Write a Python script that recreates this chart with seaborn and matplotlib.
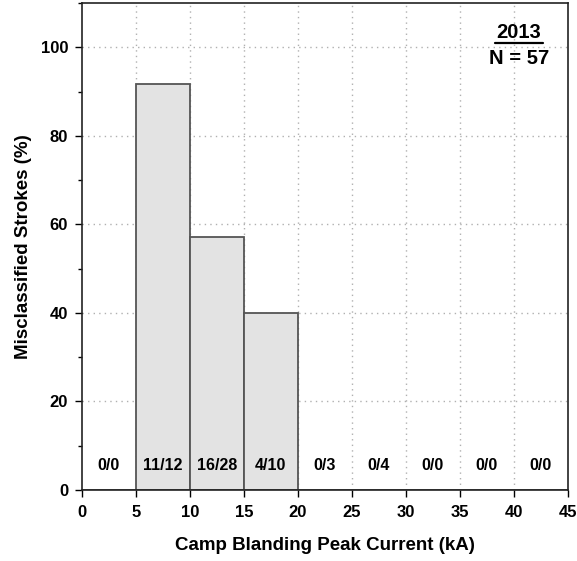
import matplotlib
matplotlib.use("Agg")
import matplotlib.pyplot as plt
import seaborn as sns
import numpy as np
from matplotlib.ticker import MultipleLocator

sns.set_style("ticks")
plt.rcParams['font.family'] = ['Liberation Sans', 'DejaVu Sans']
plt.rcParams['font.weight'] = 'bold'
plt.rcParams['text.color'] = 'black'
plt.rcParams['axes.labelcolor'] = 'black'
plt.rcParams['xtick.color'] = 'black'
plt.rcParams['ytick.color'] = 'black'

bin_edges = [0, 5, 10, 15, 20, 25, 30, 35, 40, 45]
bin_centers = [2.5, 7.5, 12.5, 17.5, 22.5, 27.5, 32.5, 37.5, 42.5]
misclassified_pct = [0, 91.67, 57.14, 40.0, 0, 0, 0, 0, 0]
count_labels = ["0/0", "11/12", "16/28", "4/10", "0/3", "0/4", "0/0", "0/0", "0/0"]
year_label = "2013"
n_label = "N = 57"

fig = plt.figure(figsize=(5.77, 5.61), dpi=100)
ax = fig.add_axes([0.142, 0.1266, 0.842, 0.868])

for v in [5, 10, 15, 20, 25, 30, 35, 40]:
    ax.axvline(v, color="#b0b0b0", linestyle=(0, (1, 3)), linewidth=1.0, zorder=0)
for v in [20, 40, 60, 80, 100]:
    ax.axhline(v, color="#b0b0b0", linestyle=(0, (1, 3)), linewidth=1.0, zorder=0)

sns.histplot(x=bin_centers, weights=misclassified_pct, bins=bin_edges, ax=ax,
             color="#e3e3e3", edgecolor="#555555", linewidth=1.3, alpha=1, zorder=2)

for c, lab in zip(bin_centers, count_labels):
    ax.text(c, 5.5, lab, ha="center", va="center", fontsize=11.5, fontweight="bold", zorder=3)

ax.text(0.899, 0.940, year_label, transform=ax.transAxes, ha="center", va="center",
        fontsize=14.5, fontweight="bold")
ax.plot([0.850, 0.948], [0.918, 0.918], transform=ax.transAxes, color="black", linewidth=1.6)
ax.text(0.899, 0.887, n_label, transform=ax.transAxes, ha="center", va="center",
        fontsize=14.5, fontweight="bold")

ax.set_xlim(0, 45)
ax.set_ylim(0, 110)
ax.set_xticks(range(0, 46, 5))
ax.set_yticks(range(0, 101, 20))
ax.yaxis.set_minor_locator(MultipleLocator(10))
ax.tick_params(axis="both", which="major", labelsize=12, length=5, width=1, direction="out")
ax.tick_params(axis="x", which="major", pad=6)
ax.tick_params(axis="y", which="major", pad=5)
ax.tick_params(axis="y", which="minor", length=3, width=1)
for lab in ax.get_xticklabels() + ax.get_yticklabels():
    lab.set_fontweight("bold")

ax.set_xlabel("Camp Blanding Peak Current (kA)", fontsize=13.5, fontweight="bold", labelpad=12)
ax.set_ylabel("Misclassified Strokes (%)", fontsize=13.5, fontweight="bold", labelpad=6)

for s in ax.spines.values():
    s.set_visible(True)
    s.set_linewidth(1.2)
    s.set_color("#222222")

fig.savefig("out.png", dpi=100)
